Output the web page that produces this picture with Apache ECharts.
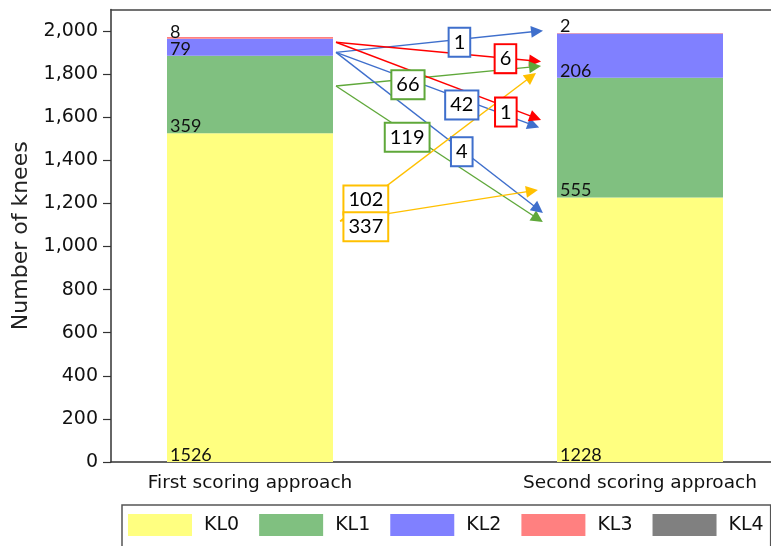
<!DOCTYPE html>
<html>
<head>
<meta charset="utf-8">
<script src="https://cdn.jsdelivr.net/npm/echarts@6/dist/echarts.min.js"></script>
<style>
  html, body { margin: 0; padding: 0; background: #fff; }
  #chart { width: 771px; height: 546px; }
</style>
</head>
<body>
<div id="chart"></div>
<script>
// Categories on the horizontal axis (0 = first approach, 1 = second approach)
const categories = ['First scoring approach', 'Second scoring approach'];
const gradeNames = ['KL0', 'KL1', 'KL2', 'KL3', 'KL4'];

// Number of knees per KL grade, for each scoring approach
const kl0 = [1526, 1228];
const kl1 = [359, 555];
const kl2 = [79, 206];
const kl3 = [8, 2];
const kl4 = [0, 0];

const yTicks = [0, 200, 400, 600, 800, 1000, 1200, 1400, 1600, 1800, 2000];

// Reclassified knees between the two approaches (arrow with a boxed count)
const flowCounts = [1, 6, 66, 42, 1, 119, 4, 102, 337];
const flowGrade  = ['KL2', 'KL3', 'KL1', 'KL2', 'KL3', 'KL1', 'KL2', 'KL0', 'KL0'];
const flowStartX = [0.2205, 0.2205, 0.2205, 0.2205, 0.2205, 0.2205, 0.2205, 0.231, 0.231];
const flowStartY = [1901, 1948, 1745, 1901, 1948, 1745, 1901, 1118, 1118];
const flowEndX   = [0.736, 0.731, 0.731, 0.727, 0.732, 0.738, 0.739, 0.721, 0.723];
const flowEndY   = [1999, 1861, 1835, 1562, 1597, 1129, 1173, 1789, 1258];
const boxX       = [0.537, 0.655, 0.405, 0.543, 0.656, 0.403, 0.543, 0.297, 0.297];
const boxY       = [1948, 1872, 1751, 1657, 1624, 1507, 1440, 1216, 1092];

const barColors  = { KL0: '#FFFF80', KL1: '#80C080', KL2: '#8080FF', KL3: '#FF8080', KL4: '#808080' };
const flowColors = { KL0: '#FFC000', KL1: '#5FA83A', KL2: '#3F6FCC', KL3: '#FF0000' };

const seriesValues = { KL0: kl0, KL1: kl1, KL2: kl2, KL3: kl3, KL4: kl4 };

const axisFont = 'DejaVu Sans';
const labelFont = 'Lato';

// Horizontal extent in category units: bar centres sit at 0 and 1
const xMin = -0.3564;
const xMax = 1.3359;

// Count first, position second, so the count column is the one stacked
const barSeries = gradeNames.map(name => ({
  name: name,
  type: 'bar',
  stack: 'total',
  barWidth: 166,
  z: 2,
  encode: { x: 1, y: 0 },
  itemStyle: { color: barColors[name] },
  label: {
    show: true,
    position: 'insideBottomLeft',
    distance: 3,
    offset: [0, 4],
    fontFamily: labelFont,
    fontSize: 18,
    lineHeight: 16,
    color: '#111',
    formatter: p => (p.value[0] > 0 ? String(p.value[0]) : '')
  },
  emphasis: { disabled: true },
  data: seriesValues[name].map((v, i) => [v, i])
}));

const flowLines = {
  type: 'lines',
  coordinateSystem: 'cartesian2d',
  z: 3,
  symbol: ['none', 'triangle'],
  symbolSize: 12,
  silent: true,
  lineStyle: { width: 1.4, opacity: 1, curveness: 0 },
  data: flowCounts.map((c, i) => ({
    coords: [[flowStartX[i], flowStartY[i]], [flowEndX[i], flowEndY[i]]],
    lineStyle: { color: flowColors[flowGrade[i]] }
  }))
};

const flowBoxes = {
  type: 'scatter',
  z: 5,
  symbolSize: 1,
  silent: true,
  itemStyle: { color: 'rgba(0,0,0,0)', opacity: 1 },
  label: {
    show: true,
    position: 'inside',
    opacity: 1,
    fontFamily: labelFont,
    fontSize: 20,
    lineHeight: 20,
    color: '#000',
    backgroundColor: '#fff',
    borderWidth: 2,
    padding: [4, 4, 3, 4],
    formatter: p => String(flowCounts[p.dataIndex])
  },
  emphasis: { disabled: true },
  data: flowCounts.map((c, i) => ({
    value: [boxX[i], boxY[i]],
    label: { borderColor: flowColors[flowGrade[i]] }
  }))
};

const chart = echarts.init(document.getElementById('chart'), null, { renderer: 'canvas' });
chart.setOption({
  animation: false,
  backgroundColor: '#fff',
  grid: { left: 111, top: 9.5, right: 0, bottom: 84 },
  legend: {
    data: gradeNames,
    left: 122, top: 505, width: 700,
    icon: 'rect',
    itemWidth: 64, itemHeight: 22, itemGap: 20,
    padding: [9, 7, 11, 6],
    borderColor: '#555', borderWidth: 1.5,
    selectedMode: false,
    textStyle: { fontFamily: axisFont, fontSize: 19, color: '#111', padding: [0, 0, 0, 7] }
  },
  xAxis: [{
    type: 'value',
    min: xMin, max: xMax,
    axisLine: { show: true, onZero: false, lineStyle: { color: '#333', width: 1.5 } },
    axisTick: { show: false },
    splitLine: { show: false },
    axisLabel: {
      customValues: [0, 1],
      formatter: v => categories[Math.round(v)],
      margin: 12,
      fontFamily: axisFont, fontSize: 18.5, color: '#111'
    }
  }, {
    // frame line along the top of the plot
    type: 'value',
    position: 'top',
    min: xMin, max: xMax,
    axisLine: { show: true, onZero: false, lineStyle: { color: '#444', width: 1.5 } },
    axisTick: { show: false },
    axisLabel: { show: false },
    splitLine: { show: false }
  }],
  yAxis: {
    type: 'value',
    min: 0, max: 2100,
    name: 'Number of knees',
    nameLocation: 'middle',
    nameGap: 76,
    nameTextStyle: { fontFamily: axisFont, fontSize: 22, color: '#222' },
    axisLine: { show: true, onZero: false, lineStyle: { color: '#333', width: 1.5 } },
    axisTick: { show: true, customValues: yTicks, length: 8, lineStyle: { color: '#333', width: 1.2 } },
    splitLine: { show: false },
    axisLabel: {
      customValues: yTicks,
      formatter: v => v.toLocaleString('en-US'),
      margin: 13,
      fontFamily: axisFont, fontSize: 19, color: '#111'
    }
  },
  series: [...barSeries, flowLines, flowBoxes]
});
</script>
</body>
</html>
